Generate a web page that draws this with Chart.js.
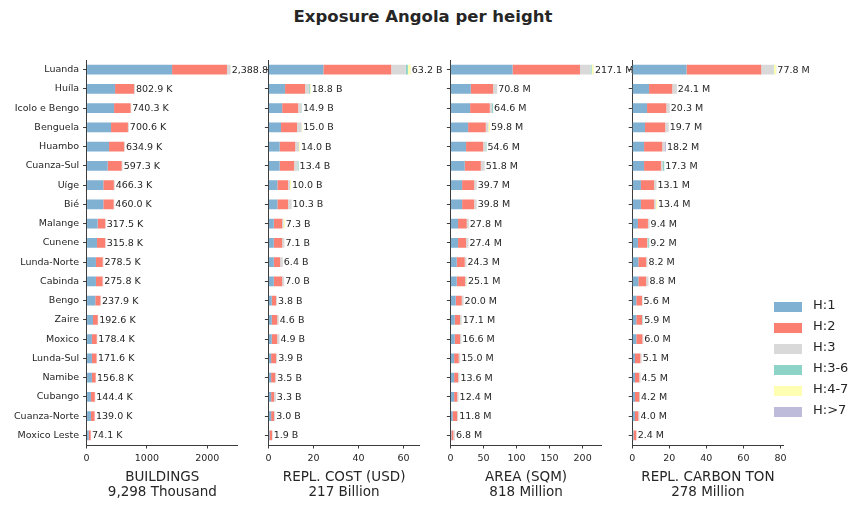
<!DOCTYPE html>
<html>
<head>
<meta charset="utf-8">
<script src="https://cdn.jsdelivr.net/npm/chart.js@4.4.1/dist/chart.umd.min.js"></script>
<style>
  html, body { margin:0; padding:0; background:#fff; }
  body { width:865px; height:510px; position:relative; overflow:hidden; font-family:"DejaVu Sans", sans-serif; }
  canvas { position:absolute; left:0; top:0; }
  #title { position:absolute; left:0; width:846px; top:7px; text-align:center; font-weight:bold; font-size:16.5px; color:#262626; }
  #legend { position:absolute; left:774px; top:296px; }
  .li { position:relative; height:21px; }
  .sw { position:absolute; left:0; top:6px; width:28px; height:10px; }
  .lt { position:absolute; left:39px; top:1px; font-size:13px; color:#262626; white-space:nowrap; }
</style>
</head>
<body>
<div id="title">Exposure Angola per height</div>
<canvas id="c1" width="865" height="510"></canvas>
<canvas id="c2" width="865" height="510"></canvas>
<canvas id="c3" width="865" height="510"></canvas>
<canvas id="c4" width="865" height="510"></canvas>
<div id="legend"></div>
<script>
const categories = ['Luanda','Huíla','Icolo e Bengo','Benguela','Huambo','Cuanza-Sul','Uíge','Bié','Malange','Cunene','Lunda-Norte','Cabinda','Bengo','Zaire','Moxico','Lunda-Sul','Namibe','Cubango','Cuanza-Norte','Moxico Leste'];
const heightClasses = ['H:1','H:2','H:3','H:3-6','H:4-7','H:>7'];
const classColors = ['#80b1d3','#fb8072','#d9d9d9','#8dd3c7','#ffffb3','#bebada'];

// BUILDINGS (thousands)
const buildingsH1  = [1417,472,455,405,372,350,277,277,183,172,155,155,144,105,88,88,88,72,72,35];
const buildingsH2  = [910,315,275,280,250,232,175,172,127,137,113,110,86,80,80,77,62,64,60,33];
const buildingsH3  = [57.8,15.9,10.3,15.6,12.9,15.3,14.3,11.0,7.5,6.8,10.5,10.8,7.9,7.6,10.4,6.6,6.8,8.4,7.0,6.1];
const buildingsH36 = [1,0,0,0,0,0,0,0,0,0,0,0,0,0,0,0,0,0,0,0];
const buildingsH47 = [2,0,0,0,0,0,0,0,0,0,0,0,0,0,0,0,0,0,0,0];
const buildingsH7  = [1,0,0,0,0,0,0,0,0,0,0,0,0,0,0,0,0,0,0,0];

// REPL. COST (billion USD)
const costH1  = [24.4,7.4,6.1,5.6,5.0,5.0,4.0,4.0,2.4,2.4,2.4,2.4,1.5,1.5,1.5,1.2,1.2,1.2,1.2,0.5];
const costH2  = [30.1,8.9,7.1,7.1,6.9,6.4,4.7,4.7,3.7,3.7,2.8,3.7,1.9,2.4,2.4,2.2,1.8,1.3,1.3,1.1];
const costH3  = [6.5,1.8,1.5,2.0,1.7,1.5,0.9,1.6,0.6,1.0,1.2,0.9,0.4,0.7,1.0,0.5,0.5,0.8,0.5,0.3];
const costH36 = [0.9,0.4,0.2,0,0,0.5,0,0,0,0,0,0,0,0,0,0,0,0,0,0];
const costH47 = [1.2,0.3,0,0.3,0.4,0,0.4,0,0.6,0,0,0,0,0,0,0,0,0,0,0];
const costH7  = [0.1,0,0,0,0,0,0,0,0,0,0,0,0,0,0,0,0,0,0,0];

// AREA (million sqm)
const areaH1  = [94,30.8,29.8,26.8,23.7,21.7,17.7,17.7,11.6,11.6,9.6,9.6,8.1,6.6,6.6,5.6,5.6,5.6,3.5,1.5];
const areaH2  = [102,33.8,29.8,26.7,25.8,24.3,18.2,18.2,13.1,12.1,12.1,12.6,9.1,8.0,8.0,7.0,6.0,4.5,6.6,3.0];
const areaH3  = [16,6.2,3.4,4.0,3.5,5.8,3.8,3.9,3.1,3.7,2.6,1.9,2.8,2.5,2.0,2.4,2.0,2.3,1.7,2.3];
const areaH36 = [1.6,0,1.6,0,1.6,0,0,0,0,0,0,0,0,0,0,0,0,0,0,0];
const areaH47 = [3.0,0,0,2.3,0,0,0,0,0,0,0,1.0,0,0,0,0,0,0,0,0];
const areaH7  = [0.5,0,0,0,0,0,0,0,0,0,0,0,0,0,0,0,0,0,0,0];

// REPL. CARBON (million ton)
const carbonH1  = [29.3,9.1,8.0,6.9,6.4,6.4,4.7,4.7,3.1,3.1,3.3,3.3,2.2,2.2,2.2,1.5,1.5,1.5,1.5,0.7];
const carbonH2  = [40.3,12.5,10.4,10.9,9.8,9.1,7.1,7.1,5.4,4.9,4.2,4.2,3.1,3.1,3.3,2.9,2.3,2.3,1.8,1.5];
const carbonH3  = [6.6,2.5,1.9,1.9,1.5,1.1,1.3,1.0,0.9,0.6,0.7,1.3,0.3,0.2,0.5,0.7,0.7,0.1,0.7,0.2];
const carbonH36 = [0.3,0,0,0,0,0.7,0,0,0,0.6,0,0,0,0.4,0,0,0,0.3,0,0];
const carbonH47 = [1.2,0,0,0,0,0,0,0.6,0,0,0,0,0,0,0,0,0,0,0,0];
const carbonH7  = [0.1,0,0,0,0.5,0,0,0,0,0,0,0,0,0,0,0,0,0,0,0];

const panelTitles = [['BUILDINGS','9,298 Thousand'],['REPL. COST (USD)','217 Billion'],['AREA (SQM)','818 Million'],['REPL. CARBON TON','278 Million']];
const valueUnits = ['K','B','M','M'];
const tickValues = [[0,1000,2000],[0,20,40,60],[0,50,100,150,200],[0,20,40,60,80]];
const axisMax = [2510, 67.2, 229, 81.7];

const panelSeries = [
  [buildingsH1,buildingsH2,buildingsH3,buildingsH36,buildingsH47,buildingsH7],
  [costH1,costH2,costH3,costH36,costH47,costH7],
  [areaH1,areaH2,areaH3,areaH36,areaH47,areaH7],
  [carbonH1,carbonH2,carbonH3,carbonH36,carbonH47,carbonH7]
];

// layout
const panelLeft = [86.6, 268.4, 450.4, 632.2];
const panelWidth = 151.4;
const plotTop = 60, plotBottom = 445, W = 865, H = 510;
const FONT = 'DejaVu Sans';
const TEXT = '#262626';
const AXIS = '#3c3c3c';

const whiteArea = {
  id: 'whiteArea',
  beforeDraw(chart) {
    const a = chart.chartArea, ctx = chart.ctx;
    ctx.save(); ctx.fillStyle = '#fff';
    ctx.fillRect(a.left, a.top - 1, a.right - a.left, a.bottom - a.top + 1);
    ctx.restore();
  }
};

const totalLabels = {
  id: 'totalLabels',
  afterDatasetsDraw(chart, args, opts) {
    const ctx = chart.ctx, xs = chart.scales.x, ys = chart.scales.y;
    ctx.save();
    ctx.font = '9.5px "' + FONT + '"';
    ctx.fillStyle = TEXT; ctx.textAlign = 'left'; ctx.textBaseline = 'middle';
    chart.data.labels.forEach((lab, i) => {
      let t = 0;
      chart.data.datasets.forEach(ds => { t += ds.data[i]; });
      const s = t.toLocaleString('en-US', {minimumFractionDigits:1, maximumFractionDigits:1}) + ' ' + opts.unit;
      ctx.fillText(s, xs.getPixelForValue(t) + 1, ys.getPixelForValue(i) + 0.5);
    });
    ctx.restore();
  }
};

function makePanel(p) {
  const left = panelLeft[p];
  const right = left + panelWidth;
  const datasets = panelSeries[p].map((arr, k) => ({
    label: heightClasses[k], data: arr, backgroundColor: classColors[k],
    borderWidth: 0, barPercentage: 0.5, categoryPercentage: 1.0
  }));
  new Chart(document.getElementById('c' + (p + 1)), {
    type: 'bar',
    data: { labels: categories, datasets },
    plugins: [whiteArea, totalLabels],
    options: {
      indexAxis: 'y', responsive: false, animation: false, devicePixelRatio: 1,
      layout: { padding: { left: 0, right: W - right, top: plotTop, bottom: 0 } },
      plugins: { legend: { display: false }, tooltip: { enabled: false }, title: { display: false },
                 totalLabels: { unit: valueUnits[p] } },
      scales: {
        y: {
          stacked: true, offset: true,
          grid: { display: true, offset: false, drawOnChartArea: false, drawTicks: true, tickLength: 3.5, color: AXIS, lineWidth: 1 },
          border: { display: true, color: AXIS, width: 1 },
          ticks: { display: p === 0, autoSkip: false, padding: 4, color: TEXT, font: { family: FONT, size: 9.5 } },
          afterFit(s) { s.width = left; }
        },
        x: {
          stacked: true, min: 0, max: axisMax[p],
          grid: { display: true, drawOnChartArea: false, drawTicks: true, tickLength: 3.5, color: AXIS, lineWidth: 1 },
          border: { display: true, color: AXIS, width: 1 },
          ticks: { padding: 4.5, color: TEXT, maxRotation: 0, font: { family: FONT, size: 9.5 },
                   callback: (v) => String(v) },
          afterBuildTicks(s) { s.ticks = tickValues[p].map(v => ({ value: v })); },
          title: { display: true, text: panelTitles[p], color: TEXT, font: { family: FONT, size: 13.5, lineHeight: 1.1 }, padding: { top: 0, bottom: 10.5 } },
          afterFit(s) { s.height = H - plotBottom; }
        }
      }
    }
  });
}
for (let p = 0; p < 4; p++) makePanel(p);

const lg = document.getElementById('legend');
heightClasses.forEach((h, k) => {
  const row = document.createElement('div'); row.className = 'li';
  const sw = document.createElement('div'); sw.className = 'sw'; sw.style.background = classColors[k];
  const t = document.createElement('div'); t.className = 'lt'; t.textContent = h;
  row.appendChild(sw); row.appendChild(t); lg.appendChild(row);
});
</script>
</body>
</html>
